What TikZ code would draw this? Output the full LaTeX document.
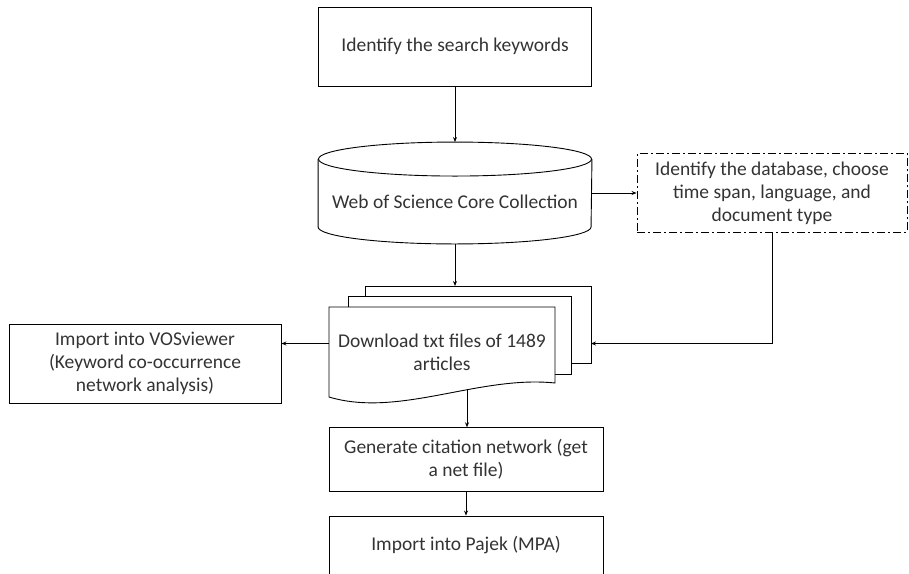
\documentclass[tikz,border=0pt]{standalone}
\usepackage{fontspec}
\setmainfont{Carlito}
\usepackage{tikz}
\usetikzlibrary{positioning, arrows.meta, shapes.geometric}

\begin{document}
\begin{tikzpicture}[x=1pt, y=-1pt, line width=0.9pt,
    font=\fontsize{19.5}{23}\selectfont, text=black!80,
    stepbox/.style={rectangle, draw, align=center, inner sep=2pt},
    page/.style={draw, fill=white},
    link/.style={-{Stealth[length=5pt, width=4pt]}}]
    \useasboundingbox (0,0) rectangle (909,573);

    \node (keys) [stepbox, minimum width=273pt, minimum height=79pt] at (455,46.5) {Identify the search keywords};
    \node (wos) [inner sep=0pt, minimum width=273pt, minimum height=101pt, text height=30pt, text depth=0pt] at (455,193) {Web of Science Core Collection};
    % database drum
    \draw ([yshift=-17pt]wos.north) ellipse [x radius=136.5pt, y radius=17pt];
    \draw ([yshift=-17pt]wos.north west) -- ([yshift=17pt]wos.south west) arc [start angle=180, end angle=360, x radius=136.5pt, y radius=17pt] -- ([yshift=-17pt]wos.north east);
    \node (db) [stepbox, dash pattern=on 8pt off 3pt on 2pt off 3pt, minimum width=270pt, minimum height=78.5pt] at (772,193) {Identify the database, choose\\time span, language, and\\document type};

    % stacked txt files
    \coordinate (dlc) at (442,352);
    \begin{scope}[shift={(dlc)}]
        \filldraw[page] (-77,-66) rectangle (149,11);
        \filldraw[page] (-94,-56) rectangle (129,22);
        \filldraw[page] (-113,-45) -- (113,-45) -- (113,31) .. controls (37,23) and (-43,66) .. (-113,45) -- cycle;
    \end{scope}
    \node (dl) [minimum width=226pt, inner sep=0pt, align=center] at (dlc) {Download txt files of 1489\\articles};
    \coordinate (stacktop) at (455,286);
    \coordinate (stackright) at (591,343.5);
    \coordinate (stackbot) at (467,389);

    \node (vos) [stepbox, minimum width=272pt, minimum height=79pt] at (145,363.5) {Import into VOSviewer\\(Keyword co-occurrence\\network analysis)};
    \node (gen) [stepbox, minimum width=274pt, minimum height=63.5pt] at (466,459.5) {Generate citation network (get\\a net file)};
    \node (pajek) [below of=gen, node distance=86pt, stepbox, minimum width=274pt, minimum height=59pt] {Import into Pajek (MPA)};

    \draw [link] (keys) -- (wos.north);
    \draw [link] (wos.east) -- (wos.east -| db.west);
    \draw [link] (wos.south) -- (stacktop);
    \draw [link] (db.south) |- (stackright);
    \draw [link] (dl.west |- stackright) -- (vos.east |- stackright);
    \draw [link] (stackbot) -- (stackbot |- gen.north);
    \draw [link] (gen) -- (pajek);
\end{tikzpicture}
\end{document}
